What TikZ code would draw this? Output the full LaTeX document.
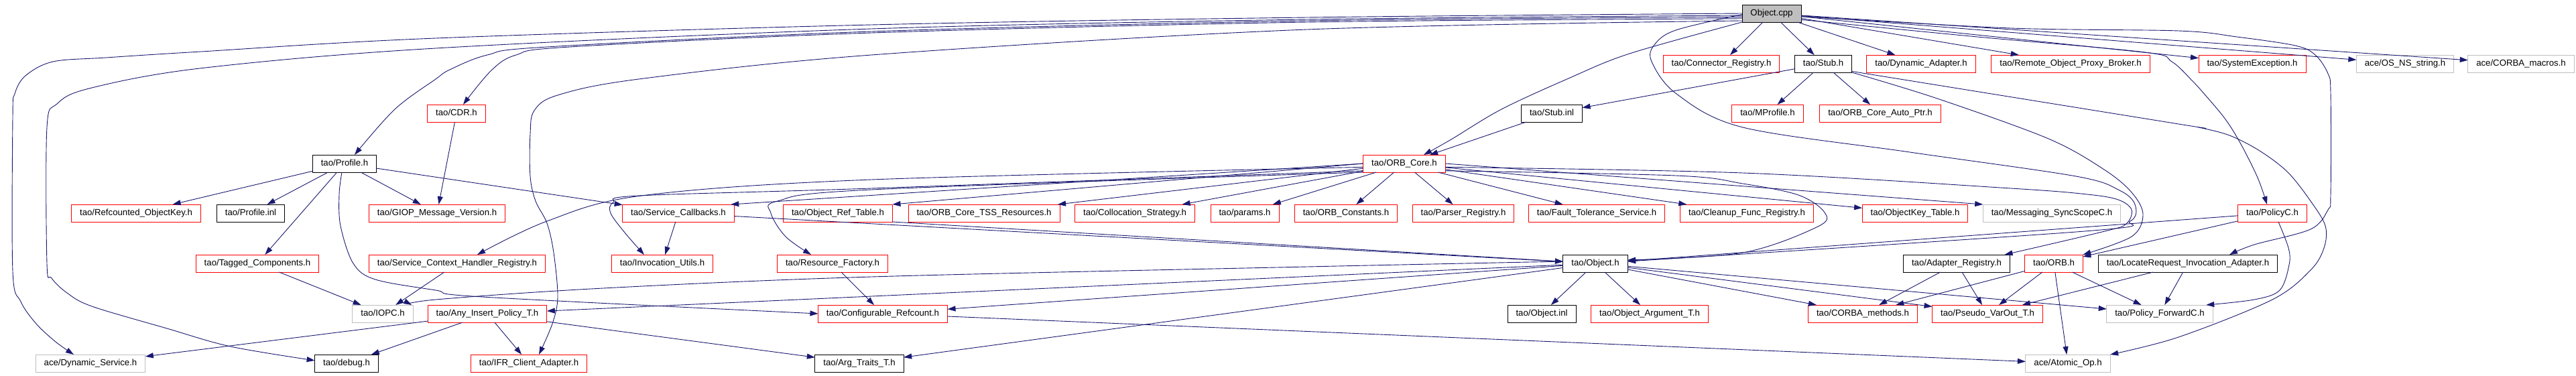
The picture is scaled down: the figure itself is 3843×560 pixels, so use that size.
\documentclass[tikz,border=0pt]{standalone}
\usepackage{fontspec}
\setmainfont{Liberation Sans}
\usetikzlibrary{arrows.meta,calc,positioning}
\definecolor{edgeblue}{HTML}{191970}
\definecolor{undocgrey}{HTML}{BFBFBF}
\tikzset{
  hdrbox/.style={draw,line width=0.9pt,inner xsep=12.5pt,inner ysep=0pt,minimum height=26pt,outer sep=0pt,
    text height=9.8pt,text depth=2.8pt,font=\fontsize{13.2}{15}\selectfont},
  docfile/.style={hdrbox,draw=black},
  truncfile/.style={hdrbox,draw=red},
  undocfile/.style={hdrbox,draw=undocgrey},
  rootfile/.style={hdrbox,draw=black,fill=undocgrey},
  dep/.style={draw=edgeblue,line width=0.9pt,-{Triangle[length=12pt,width=8pt]}}
}
\begin{document}
\begin{tikzpicture}[x=1pt,y=-1pt]
\useasboundingbox (0,0) rectangle (3843,560);
\node[rootfile] (cpp) at (2643,20) {Object.cpp};
\node[truncfile] (conn) at (2568,95) {tao/Connector\_Registry.h};
\node[docfile] (stubh) at (2720,95) {tao/Stub.h};
\node[truncfile] (dyn) at (2866,95) {tao/Dynamic\_Adapter.h};
\node[truncfile] (rop) at (3089,95) {tao/Remote\_Object\_Proxy\_Broker.h};
\node[truncfile] (sysex) at (3360,95) {tao/SystemException.h};
\node[undocfile] (osstr) at (3588,95) {ace/OS\_NS\_string.h};
\node[undocfile] (macros) at (3761,95) {ace/CORBA\_macros.h};
\node[truncfile] (cdr) at (681,169) {tao/CDR.h};
\node[docfile] (stubinl) at (2315,169) {tao/Stub.inl};
\node[truncfile] (mprof) at (2637,169) {tao/MProfile.h};
\node[truncfile] (autoptr) at (2805,169) {tao/ORB\_Core\_Auto\_Ptr.h};
\node[docfile] (prof) at (514,244) {tao/Profile.h};
\node[truncfile] (core) at (2095,244) {tao/ORB\_Core.h};
\node[truncfile] (rok) at (203,318) {tao/Refcounted\_ObjectKey.h};
\node[docfile] (profinl) at (374,318) {tao/Profile.inl};
\node[truncfile] (giop) at (652,318) {tao/GIOP\_Message\_Version.h};
\node[truncfile] (svccb) at (1012,318) {tao/Service\_Callbacks.h};
\node[truncfile] (ort) at (1250,318) {tao/Object\_Ref\_Table.h};
\node[truncfile] (tss) at (1468,318) {tao/ORB\_Core\_TSS\_Resources.h};
\node[truncfile] (coll) at (1693,318) {tao/Collocation\_Strategy.h};
\node[truncfile] (params) at (1857,318) {tao/params.h};
\node[truncfile] (consts) at (2008,318) {tao/ORB\_Constants.h};
\node[truncfile] (parser) at (2183,318) {tao/Parser\_Registry.h};
\node[truncfile] (ft) at (2382,318) {tao/Fault\_Tolerance\_Service.h};
\node[truncfile] (cleanup) at (2606,318) {tao/Cleanup\_Func\_Registry.h};
\node[truncfile] (okt) at (2857,318) {tao/ObjectKey\_Table.h};
\node[undocfile] (sync) at (3061,318) {tao/Messaging\_SyncScopeC.h};
\node[truncfile] (policyc) at (3390,318) {tao/PolicyC.h};
\node[truncfile] (tagged) at (384,393) {tao/Tagged\_Components.h};
\node[truncfile] (schr) at (682,393) {tao/Service\_Context\_Handler\_Registry.h};
\node[truncfile] (invut) at (988,393) {tao/Invocation\_Utils.h};
\node[truncfile] (resf) at (1242,393) {tao/Resource\_Factory.h};
\node[docfile] (objh) at (2380,393) {tao/Object.h};
\node[docfile] (adreg) at (2919,393) {tao/Adapter\_Registry.h};
\node[truncfile] (orbh) at (3064,393) {tao/ORB.h};
\node[docfile] (locreq) at (3264,393) {tao/LocateRequest\_Invocation\_Adapter.h};
\node[undocfile] (iopc) at (571,468) {tao/IOPC.h};
\node[truncfile] (anyins) at (727,468) {tao/Any\_Insert\_Policy\_T.h};
\node[truncfile] (cfgref) at (1317,468) {tao/Configurable\_Refcount.h};
\node[docfile] (objinl) at (2300,468) {tao/Object.inl};
\node[truncfile] (objarg) at (2461,468) {tao/Object\_Argument\_T.h};
\node[truncfile] (cmeth) at (2779,468) {tao/CORBA\_methods.h};
\node[truncfile] (pvo) at (2965,468) {tao/Pseudo\_VarOut\_T.h};
\node[undocfile] (polfwd) at (3222,468) {tao/Policy\_ForwardC.h};
\node[undocfile] (dynsvc) at (135,542) {ace/Dynamic\_Service.h};
\node[docfile] (debug) at (517,542) {tao/debug.h};
\node[truncfile] (ifr) at (789,542) {tao/IFR\_Client\_Adapter.h};
\node[docfile] (argtr) at (1282,542) {tao/Arg\_Traits\_T.h};
\node[undocfile] (atomic) at (3085,542) {ace/Atomic\_Op.h};

\draw[dep] (cpp) -- (conn);
\draw[dep] (cpp) -- (stubh);
\draw[dep] (cpp) -- (dyn);
\draw[dep] (cpp) -- (rop);
\draw[dep] (cpp) -- (sysex);
\draw[dep] (cpp) -- (osstr);
\draw[dep] (cpp) -- (macros);
\draw[dep] plot[smooth,tension=0.55] coordinates {(cpp.west) (1950,26) (1300,37) (650,57) (300,77) (158,86) (79,92) (38,113) (22,140) (19,175) (19,405) (31,450) (54,483) (83,510) ([xshift=-25pt]dynsvc.north)};
\draw[dep] plot[smooth,tension=0.55] coordinates {(cpp.184) (1950,29) (1300,43) (650,72) (298,102) (133,132) (85,155) (70,190) (70,393) (77,415) (100,437) (137,457) (249,490) (344,517) (debug.175)};
\draw[dep] plot[smooth,tension=0.55] coordinates {(cpp.187) (1950,31) (1300,47) (816,70) (727,82) (671,104) (650,118) (589,163) ([xshift=15pt]prof.north)};
\draw[dep] plot[smooth,tension=0.55] coordinates {(cpp.190) (1950,33) (1300,49) (850,70) (770,82) (733,105) ([xshift=10pt]cdr.north)};
\draw[dep] plot[smooth,tension=0.55] coordinates {(cpp.194) (1950,44) (1300,82) (953,118) (832,142) (797,165) (791,200) (791,263) (799,300) (816,333) (826,377) (832,443) (824,483) ([xshift=15pt]ifr.north)};
\draw[dep] plot[smooth,tension=0.55] coordinates {(cpp.south west) (2431,80) (2340,117) (2240,163) (2165,208) ([xshift=29pt]core.north)};
\draw[dep] plot[smooth,tension=0.55] coordinates {(cpp.182) (2500,45) (2468,67) (2464,92) (2501,140) (2600,190) (2849,227) (3097,263) (3162,284) (3185,305) (3178,330) (3110,345) ([yshift=3pt]objh.east)};
\draw[dep] plot[smooth,tension=0.55] coordinates {(cpp.-12) (2950,55) (3200,78) (3240,92) (3270,120) (3290,142) (3320,178) (3343,215) (3368,265) ([xshift=-8pt]policyc.north)};
\draw[dep] plot[smooth,tension=0.55] coordinates {(cpp.-6) (3000,42) (3250,46) (3337,55) (3424,68) (3454,82) (3473,110) (3477,140) (3477,290) (3473,313) (3447,342) (3363,365) ([xshift=62pt]locreq.north)};

\draw[dep] (stubh) -- (stubinl);
\draw[dep] (stubh) -- (mprof);
\draw[dep] (stubh) -- (autoptr);
\draw[dep] plot[smooth,tension=0.55] coordinates {(stubh.south east) (2890,147) (3056,207) (3139,253) (3180,287) (3197,320) (3180,353) (orbh.north east)};
\draw[dep] plot[smooth,tension=0.55] coordinates {(stubh.-15) (3250,185) (3280,190) (3326,202) (3371,225) (3413,257) (3447,300) (3469,337) (3467,370) (3447,403) (3390,447) (3250,503) (atomic.north east)};
\draw[dep] (stubinl) -- (core);

\draw[dep] (cdr) -- (giop);
\draw[dep] (prof) -- (rok);
\draw[dep] (prof) -- (profinl);
\draw[dep] (prof) -- (giop);
\draw[dep] (prof) -- (tagged);
\draw[dep] (prof) -- (svccb);
\draw[dep] plot[smooth,tension=0.55] coordinates {([xshift=-4pt]prof.south) (506,290) (508,337) (527,393) (560,417) (650,433) (720,443) (cfgref.west)};

\draw[dep] (core.west) -- (ort.north east);
\draw[dep] (core.west) -- ([xshift=-5pt]svccb.north east);
\draw[dep] (core) -- (tss);
\draw[dep] (core) -- (coll);
\draw[dep] (core) -- (params);
\draw[dep] (core) -- (consts);
\draw[dep] (core) -- (parser);
\draw[dep] (core) -- (ft);
\draw[dep] (core) -- (cleanup);
\draw[dep] (core) -- (okt);
\draw[dep] (core.east) -- (sync.north west);
\draw[dep] plot[smooth,tension=0.55] coordinates {(core.185) (1300,268) (957,292) (816,330) ([xshift=30pt]schr.north)};
\draw[dep] plot[smooth,tension=0.55] coordinates {(core.190) (1300,281) (953,292) (915,302) (911,318) (932,347) ([xshift=-27pt]invut.north)};
\draw[dep] plot[smooth,tension=0.55] coordinates {(core.192) (1300,283) (1160,300) (1150,318) (1172,353) ([xshift=-32pt]resf.north)};
\draw[dep] plot[smooth,tension=0.55] coordinates {(core.-10) (2500,262) (2600,274) (2683,291) (2722,317) (2712,338) (2600,377) ([yshift=5pt]objh.east)};
\draw[dep] plot[smooth,tension=0.55] coordinates {(core.-5) (2600,258) (3000,281) (3114,290) (3160,298) (3180,313) (3172,334) (3140,345) ([xshift=-8pt]adreg.north east)};

\draw[dep] (svccb) -- (invut);
\draw[dep] (svccb) -- (objh);
\draw[dep] (ort.south east) -- (objh);
\draw[dep] (policyc) -- (objh);
\draw[dep] (policyc) -- (orbh);
\draw[dep] plot[smooth,tension=0.55] coordinates {([xshift=9pt]policyc.south) (3414,370) (3415,395) (3401,433) (3363,447) ([xshift=-10pt]polfwd.north east)};

\draw[dep] (tagged) -- (iopc);
\draw[dep] (schr) -- (iopc);
\draw[dep] (resf) -- (cfgref);
\draw[dep] plot[smooth,tension=0.55] coordinates {([yshift=3pt]objh.west) (1950,398) (1300,413) (900,430) (650,447) ([xshift=-2pt]iopc.north east)};
\draw[dep] (objh) -- (anyins);
\draw[dep] (objh) -- (cfgref);
\draw[dep] (objh) -- (argtr);
\draw[dep] (objh) -- (objinl);
\draw[dep] (objh) -- (objarg);
\draw[dep] (objh) -- (cmeth);
\draw[dep] (objh) -- (pvo);
\draw[dep] (objh) -- (polfwd);
\draw[dep] (adreg) -- (cmeth);
\draw[dep] (adreg) -- (pvo);
\draw[dep] (orbh) -- (cmeth);
\draw[dep] (orbh) -- (pvo);
\draw[dep] (orbh) -- (polfwd);
\draw[dep] (orbh) -- (atomic);
\draw[dep] (locreq) -- (pvo);
\draw[dep] (locreq) -- (polfwd);

\draw[dep] (anyins) -- (dynsvc);
\draw[dep] (anyins) -- (debug);
\draw[dep] (anyins) -- (ifr);
\draw[dep] (anyins) -- (argtr);
\draw[dep] (cfgref) -- (atomic);
\end{tikzpicture}
\end{document}
